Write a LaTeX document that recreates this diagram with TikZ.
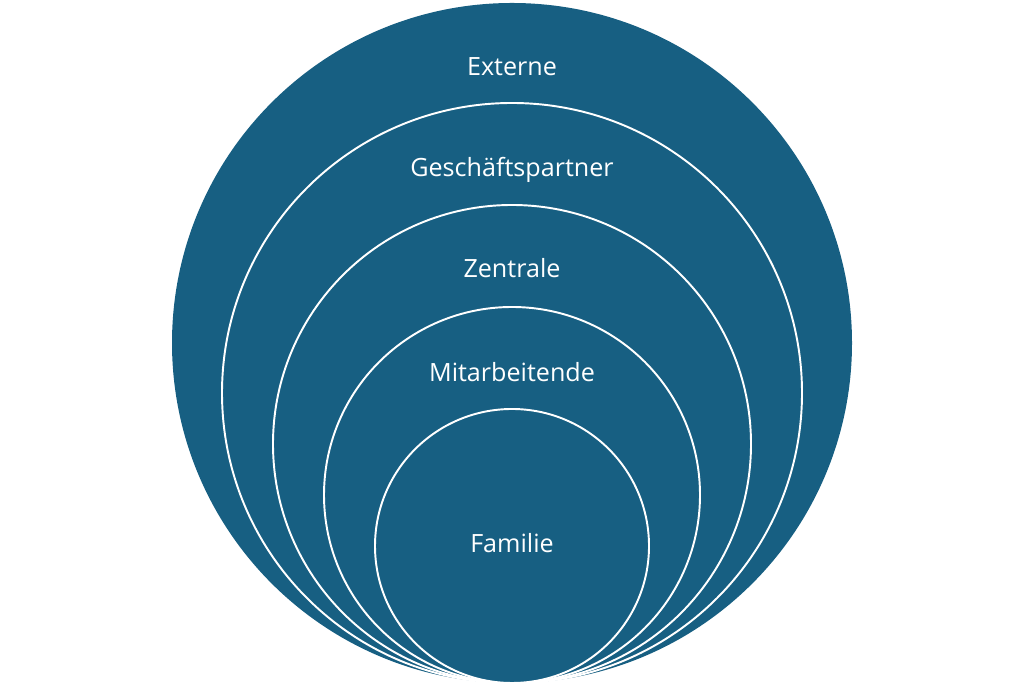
\documentclass[tikz,border=0pt]{standalone}
\usepackage{fontspec}
\setmainfont{Open Sans}
\definecolor{ringblue}{HTML}{175F82}
\tikzset{
    ringlabel/.style={white, anchor=base, font=\fontsize{14.3}{17}\selectfont}
}
\begin{document}
\begin{tikzpicture}[x=0.02cm, y=0.02cm]
            \useasboundingbox (0, 0) rectangle (1024, 685);

            \fill[ringblue] (512, 342) circle (340);
            \foreach \r in {290, 239, 188, 137} {
                \filldraw[ringblue, draw=white, line width=1.1pt] (512, 2+\r) circle (\r);
            }

            \node[ringlabel] (externe) at (512, 609) {Externe};
            \node[ringlabel] (partner) at (512, 508) {Geschäftspartner};
            \node[ringlabel] (zentrale) at (512, 407) {Zentrale};
            \node[ringlabel] (mitarb) at (512, 303) {Mitarbeitende};
            \node[ringlabel] (familie) at (512, 132) {Familie};
        \end{tikzpicture}
\end{document}
